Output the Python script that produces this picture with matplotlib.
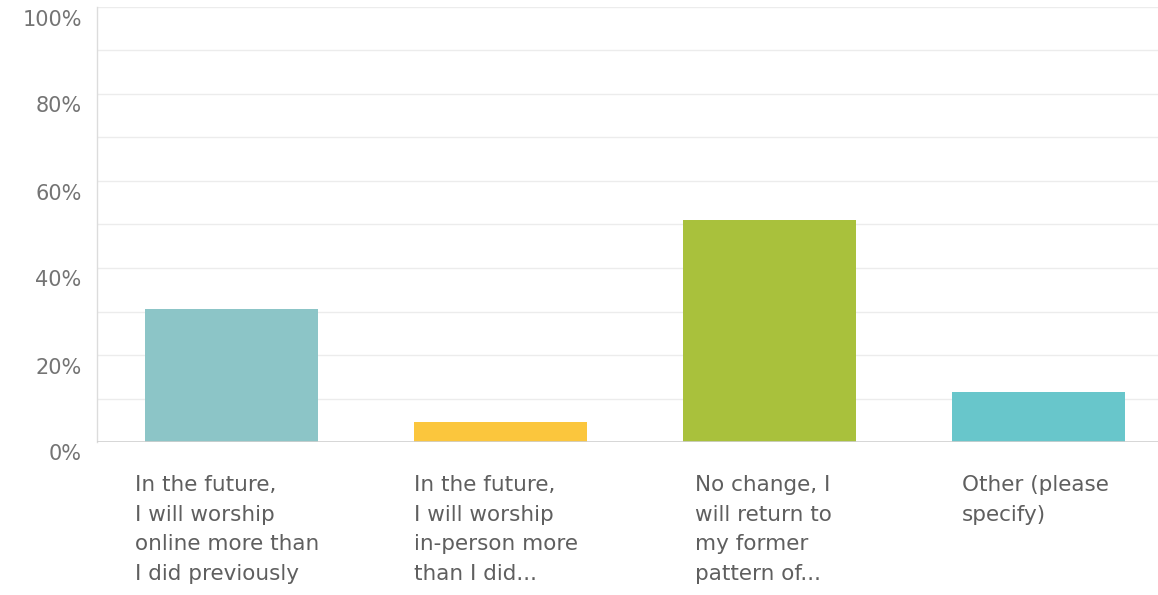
import matplotlib
matplotlib.use("Agg")
import matplotlib.pyplot as plt
import matplotlib.transforms as mtransforms
import numpy as np

categories = [
    "In the future,\nI will worship\nonline more than\nI did previously",
    "In the future,\nI will worship\nin-person more\nthan I did...",
    "No change, I\nwill return to\nmy former\npattern of...",
    "Other (please\nspecify)",
]
values = [30.5, 4.6, 51.0, 11.6]
colors = ["#8cc5c7", "#fbc63d", "#a9c13c", "#68c6cb"]
ytick_vals = [0, 20, 40, 60, 80, 100]
ytick_labels = ["0%", "20%", "40%", "60%", "80%", "100%"]

W, H = 1158, 595
fig = plt.figure(figsize=(W / 100, H / 100), dpi=100)
ax_left, ax_right, ax_top, ax_bottom = 97, 1158, 7, 442
ax = fig.add_axes([ax_left / W, 1 - ax_bottom / H,
                   (ax_right - ax_left) / W, (ax_bottom - ax_top) / H])

x = np.arange(len(categories))
ax.bar(x, values, width=0.64, color=colors, zorder=3)

ax.set_xlim(-0.5, 3.444)
ax.set_ylim(0, 100)

for v in range(10, 101, 10):
    ax.axhline(v, color="#ececec", lw=1, zorder=1)
ax.axhline(0, color="#cfcfcf", lw=1.2, zorder=4)

for s in ["top", "right", "bottom"]:
    ax.spines[s].set_visible(False)
ax.spines["left"].set_color("#dcdcdc")
ax.spines["left"].set_linewidth(1)

ax.set_yticks(ytick_vals)
ax.set_yticklabels(ytick_labels)
ax.tick_params(axis="y", length=0, pad=11, labelsize=15, labelcolor="#747474")
offset = mtransforms.ScaledTranslation(0, -10.5 / 100, fig.dpi_scale_trans)
for lab in ax.get_yticklabels():
    lab.set_transform(lab.get_transform() + offset)
    lab.set_fontfamily("DejaVu Sans")

ax.set_xticks([])

label_x_px = [135, 414, 695, 962]
first_baseline_px = 491
line_step_px = 29.7
for i, txt in enumerate(categories):
    for j, line in enumerate(txt.split("\n")):
        fig.text(label_x_px[i] / W, 1 - (first_baseline_px + j * line_step_px) / H,
                 line, ha="left", va="baseline", fontsize=15.5,
                 color="#5f5f5f", family="DejaVu Sans")

fig.savefig("out.png", dpi=100, facecolor="white")
